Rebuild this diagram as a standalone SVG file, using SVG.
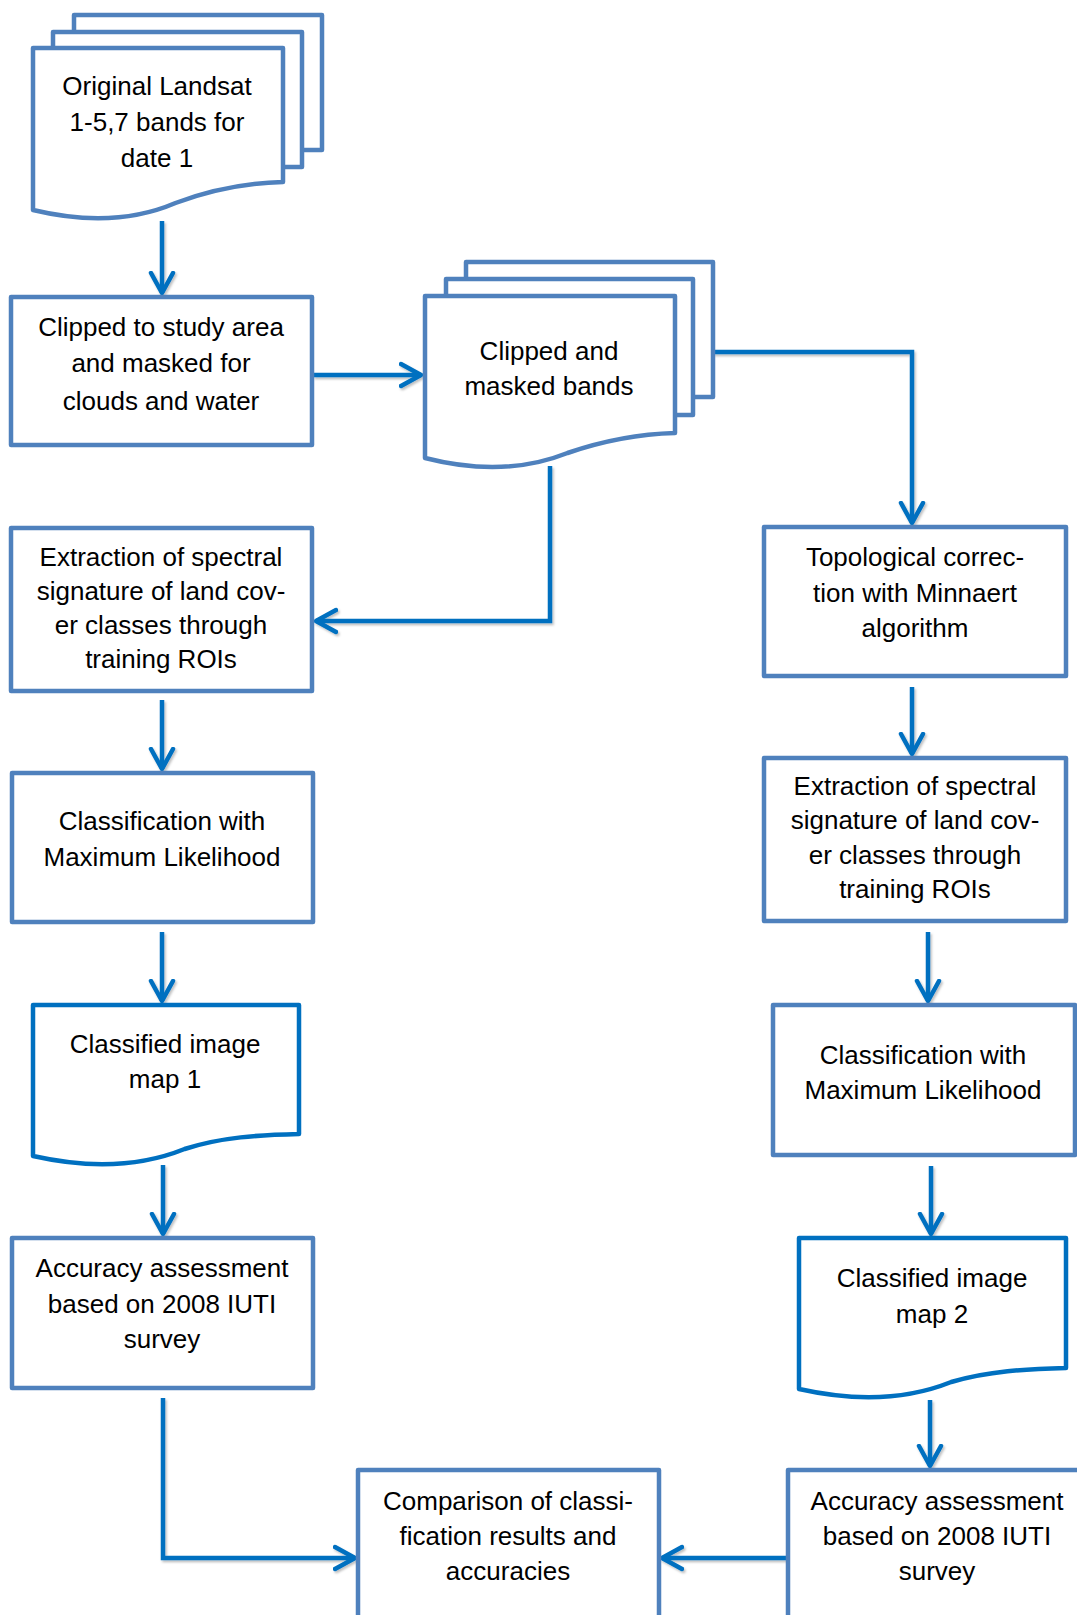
<svg xmlns="http://www.w3.org/2000/svg" width="1077" height="1615" viewBox="0 0 1077 1615">
  <style>
    .box { fill: #ffffff; stroke: #4F81BD; stroke-width: 4.5; stroke-linejoin: round; }
    .doc { fill: #ffffff; stroke: #4F81BD; stroke-width: 4.5; stroke-linejoin: round; }
    .doc2 { fill: #ffffff; stroke: #0070C0; stroke-width: 4.5; stroke-linejoin: round; }
    .lbl { font-family: "Liberation Sans", Arial, sans-serif; font-size: 26px; fill: #000000; text-anchor: middle; }
    .conn { fill: none; stroke: #0070C0; stroke-width: 4.5; marker-end: url(#arrow); }
  </style>
  <defs>
    <marker id="arrow" viewBox="0 -14 26 28" refX="22" refY="0" markerWidth="26" markerHeight="28" markerUnits="userSpaceOnUse" orient="auto">
      <path d="M2,-11 L22,0 L2,11" fill="none" stroke="#0070C0" stroke-width="4.5" stroke-linecap="round" stroke-linejoin="round"/>
    </marker>
    <filter id="sh" x="-20%" y="-20%" width="140%" height="140%">
      <feDropShadow dx="1.5" dy="2" stdDeviation="1.2" flood-color="#000000" flood-opacity="0.25"/>
    </filter>
  </defs>
  <rect width="1077" height="1615" fill="#ffffff"/>

  <g id="connectors" filter="url(#sh)">
    <path class="conn" d="M162,221 V293"/>
    <path class="conn" d="M313,375 H421"/>
    <path class="conn" d="M713,352 H912 V523"/>
    <path class="conn" d="M550,466 V621 H316"/>
    <path class="conn" d="M162,700 V769"/>
    <path class="conn" d="M162,932 V1001"/>
    <path class="conn" d="M163,1165 V1234"/>
    <path class="conn" d="M163,1398 V1558 H355"/>
    <path class="conn" d="M912,687 V754"/>
    <path class="conn" d="M928,932 V1001"/>
    <path class="conn" d="M931,1166 V1234"/>
    <path class="conn" d="M930,1400 V1466"/>
    <path class="conn" d="M788,1558 H662"/>
  </g>

  <g id="node-original-landsat">
    <rect class="doc" x="74" y="15" width="248" height="135"/>
    <rect class="doc" x="53" y="32" width="249" height="135"/>
    <path class="doc" d="M33,48 H283 V182 C245.5,183 210.5,190 175.5,203 C140.5,218 95.5,225 33,210 Z"/>
    <text class="lbl" x="157" y="95">Original Landsat</text>
    <text class="lbl" x="157" y="131">1-5,7 bands for</text>
    <text class="lbl" x="157" y="167">date 1</text>
  </g>

  <g id="node-clipped-study-area">
    <rect class="box" x="11" y="297" width="301" height="148"/>
    <text class="lbl" x="161" y="336">Clipped to study area</text>
    <text class="lbl" x="161" y="372">and masked for</text>
    <text class="lbl" x="161" y="410">clouds and water</text>
  </g>

  <g id="node-clipped-masked-bands">
    <rect class="doc" x="466" y="262" width="247" height="135"/>
    <rect class="doc" x="446" y="279" width="247" height="136"/>
    <path class="doc" d="M425,296 H675 V433 C637.5,434 602.5,441 567.5,453 C532.5,467 487.5,474 425,458 Z"/>
    <text class="lbl" x="549" y="360">Clipped and</text>
    <text class="lbl" x="549" y="395">masked bands</text>
  </g>

  <g id="node-extraction-1">
    <rect class="box" x="11" y="528" width="301" height="163"/>
    <text class="lbl" x="161" y="566">Extraction of spectral</text>
    <text class="lbl" x="161" y="600">signature of land cov-</text>
    <text class="lbl" x="161" y="634">er classes through</text>
    <text class="lbl" x="161" y="668">training ROIs</text>
  </g>

  <g id="node-topological">
    <rect class="box" x="764" y="527" width="302" height="149"/>
    <text class="lbl" x="915" y="566">Topological correc-</text>
    <text class="lbl" x="915" y="602">tion with Minnaert</text>
    <text class="lbl" x="915" y="637">algorithm</text>
  </g>

  <g id="node-classification-1">
    <rect class="box" x="12" y="773" width="301" height="149"/>
    <text class="lbl" x="162" y="830">Classification with</text>
    <text class="lbl" x="162" y="866">Maximum Likelihood</text>
  </g>

  <g id="node-extraction-2">
    <rect class="box" x="764" y="758" width="302" height="163"/>
    <text class="lbl" x="915" y="795">Extraction of spectral</text>
    <text class="lbl" x="915" y="829">signature of land cov-</text>
    <text class="lbl" x="915" y="864">er classes through</text>
    <text class="lbl" x="915" y="898">training ROIs</text>
  </g>

  <g id="node-map-1">
    <path class="doc2" d="M33,1005 H299 V1134 C258.9,1135 221.7,1137 184.6,1149 C147.4,1164 99.5,1171 33,1156 Z"/>
    <text class="lbl" x="165" y="1053">Classified image</text>
    <text class="lbl" x="165" y="1088">map 1</text>
  </g>

  <g id="node-classification-2">
    <rect class="box" x="773" y="1005" width="302" height="150"/>
    <text class="lbl" x="923" y="1064">Classification with</text>
    <text class="lbl" x="923" y="1099">Maximum Likelihood</text>
  </g>

  <g id="node-accuracy-1">
    <rect class="box" x="12" y="1238" width="301" height="150"/>
    <text class="lbl" x="162" y="1277">Accuracy assessment</text>
    <text class="lbl" x="162" y="1313">based on 2008 IUTI</text>
    <text class="lbl" x="162" y="1348">survey</text>
  </g>

  <g id="node-map-2">
    <path class="doc2" d="M799,1238 H1066 V1368 C1025.8,1369 988.5,1371 951.2,1382 C913.8,1397 865.8,1404 799,1389 Z"/>
    <text class="lbl" x="932" y="1287">Classified image</text>
    <text class="lbl" x="932" y="1323">map 2</text>
  </g>

  <g id="node-comparison">
    <rect class="box" x="358" y="1470" width="301" height="165"/>
    <text class="lbl" x="508" y="1510">Comparison of classi-</text>
    <text class="lbl" x="508" y="1545">fication results and</text>
    <text class="lbl" x="508" y="1580">accuracies</text>
  </g>

  <g id="node-accuracy-2">
    <rect class="box" x="788" y="1470" width="310" height="165"/>
    <text class="lbl" x="937" y="1510">Accuracy assessment</text>
    <text class="lbl" x="937" y="1545">based on 2008 IUTI</text>
    <text class="lbl" x="937" y="1580">survey</text>
  </g>
</svg>
